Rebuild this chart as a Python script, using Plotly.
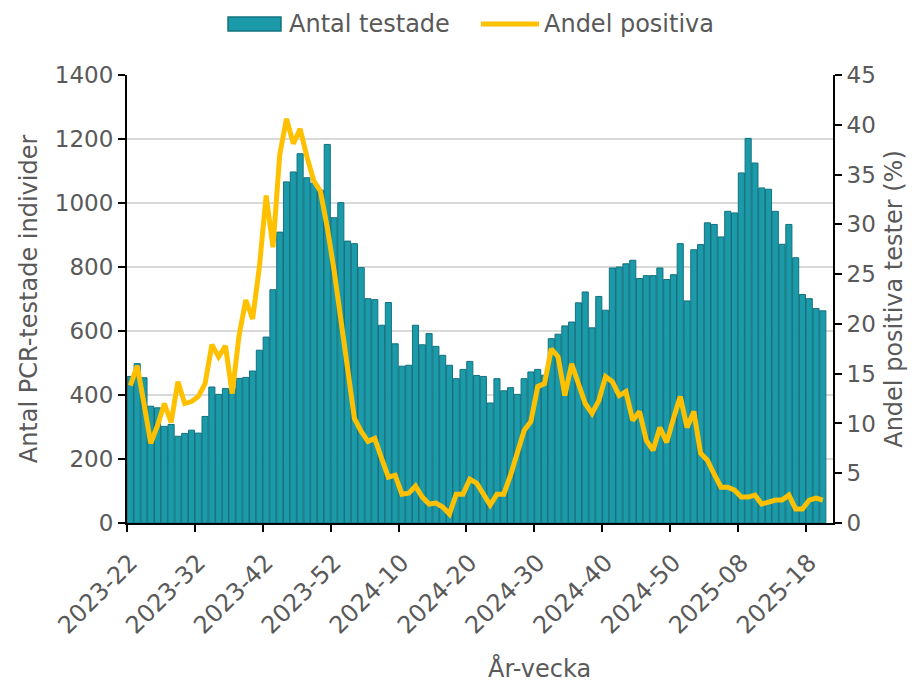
import plotly.graph_objects as go

weeks = ([f"2023-{w:02d}" for w in range(22, 53)] +
         [f"2024-{w:02d}" for w in range(1, 53)] +
         [f"2025-{w:02d}" for w in range(1, 22)])

antal_testade = [
    458, 498, 454, 365, 360, 302, 308, 271, 280, 290,
    281, 333, 425, 402, 420, 420, 452, 455, 475, 540,
    581, 729, 909, 1066, 1097, 1154, 1079, 1062, 1040, 1183,
    954, 1001, 881, 873, 798, 701, 698, 618, 689, 560,
    490, 493, 618, 557, 592, 552, 524, 493, 451, 480,
    505, 461, 458, 375, 451, 413, 423, 402, 451, 472,
    480, 462, 576, 590, 616, 628, 688, 722, 610, 708,
    665, 797, 800, 810, 821, 764, 773, 773, 797, 761,
    776, 873, 694, 854, 870, 938, 933, 894, 974, 969,
    1094, 1202, 1125, 1047, 1043, 974, 871, 933, 829, 714,
    701, 670, 663, None,
]

andel_positiva = [
    13.8, 15.8, 12.0, 8.0, 9.8, 12.0, 10.1, 14.2, 12.0, 12.2,
    12.7, 14.0, 17.9, 16.7, 17.8, 13.0, 18.8, 22.4, 20.5, 25.7,
    32.9, 27.7, 37.0, 40.6, 38.1, 39.6, 36.8, 34.4, 33.3, 29.7,
    25.4, 20.8, 15.5, 10.5, 9.2, 8.2, 8.5, 6.5, 4.6, 4.8,
    2.9, 3.0, 3.7, 2.6, 1.9, 2.0, 1.6, 0.9, 2.9, 2.9,
    4.4, 4.0, 2.9, 1.8, 2.9, 2.9, 4.8, 7.0, 9.3, 10.2,
    13.7, 14.0, 17.5, 16.7, 12.8, 16.0, 13.8, 12.0, 11.0, 12.3,
    14.7, 14.2, 12.8, 13.2, 10.3, 11.2, 8.3, 7.3, 9.6, 8.1,
    10.5, 12.7, 9.6, 11.2, 7.0, 6.3, 4.9, 3.6, 3.6, 3.3,
    2.6, 2.6, 2.8, 1.9, 2.1, 2.3, 2.3, 2.8, 1.4, 1.4,
    2.3, 2.5, 2.3, None,
]

series_names = ["Antal testade", "Andel positiva"]
x_title = "År-vecka"
y_title = "Antal PCR-testade individer"
y2_title = "Andel positiva tester (%)"

x = list(range(len(weeks)))
label_idx = list(range(0, len(weeks), 10))

txt = "#595959"
bar_fill = "#1B9AAA"
bar_edge = "#13717D"
line_col = "#FFC000"
font_family = "DejaVu Sans, Verdana, sans-serif"
tick_size = 23
title_size = 24

fig = go.Figure()
fig.add_trace(go.Bar(
    x=x, y=antal_testade, name=series_names[0],
    marker=dict(color=bar_fill, line=dict(color=bar_edge, width=1)),
    yaxis="y", showlegend=False,
))
fig.add_trace(go.Scatter(
    x=x, y=andel_positiva, name=series_names[1], mode="lines",
    line=dict(color=line_col, width=5),
    yaxis="y2", showlegend=False,
))

# custom legend (wide swatches like the original)
fig.add_shape(type="rect", xref="paper", yref="paper",
              x0=0.1431, x1=0.2181, y0=1.0982, y1=1.1295,
              fillcolor=bar_fill, line=dict(color=bar_edge, width=1.5))
fig.add_shape(type="line", xref="paper", yref="paper",
              x0=0.5014, x1=0.5836, y0=1.1138, y1=1.1138,
              line=dict(color=line_col, width=5))
fig.add_annotation(text=series_names[0], xref="paper", yref="paper",
                   x=0.2266, y=1.1138, xanchor="left", yanchor="middle",
                   showarrow=False, font=dict(size=title_size, color=txt))
fig.add_annotation(text=series_names[1], xref="paper", yref="paper",
                   x=0.5878, y=1.1138, xanchor="left", yanchor="middle",
                   showarrow=False, font=dict(size=title_size, color=txt))
# x-axis title
fig.add_annotation(text=x_title, xref="paper", yref="paper",
                   x=0.5836, y=-0.324, xanchor="center", yanchor="middle",
                   showarrow=False, font=dict(size=title_size, color=txt))

# the page adds an 8px body margin, so the figure is 8px smaller on each axis
fig.update_layout(
    width=915, height=676,
    margin=dict(l=119, r=90, t=67, b=161, autoexpand=False),
    paper_bgcolor="white", plot_bgcolor="white",
    font=dict(family=font_family, size=tick_size, color=txt),
    bargap=0.1,
    showlegend=False,
    xaxis=dict(
        range=[-0.5, len(weeks) - 0.5],
        tickmode="array",
        tickvals=label_idx,
        ticktext=[weeks[i] for i in label_idx],
        tickangle=-45,
        ticks="",
        ticklabelstandoff=14,
        showline=True, linecolor="black", linewidth=2,
        showgrid=False, zeroline=False,
        minor=dict(tickmode="array", tickvals=[i - 0.5 for i in label_idx],
                   ticks="outside", ticklen=7, tickwidth=2, tickcolor="black",
                   showgrid=False),
        tickfont=dict(size=24, color=txt),
        automargin=False,
    ),
    yaxis=dict(
        range=[0, 1400], dtick=200, tick0=0,
        showgrid=True, gridcolor="#D9D9D9", gridwidth=1.5,
        showline=True, linecolor="black", linewidth=2,
        ticks="outside", ticklen=7, tickwidth=2, tickcolor="black",
        zeroline=False,
        tickfont=dict(size=tick_size, color=txt),
        title=dict(text=y_title, font=dict(size=title_size, color=txt), standoff=10),
        automargin=False,
    ),
    yaxis2=dict(
        range=[0, 45], dtick=5, tick0=0,
        overlaying="y", side="right",
        showgrid=False,
        showline=True, linecolor="black", linewidth=2,
        ticks="outside", ticklen=7, tickwidth=2, tickcolor="black",
        zeroline=False,
        tickfont=dict(size=tick_size, color=txt),
        title=dict(text=y2_title, font=dict(size=title_size, color=txt), standoff=10),
        automargin=False,
    ),
)

fig.write_html("out.html")
